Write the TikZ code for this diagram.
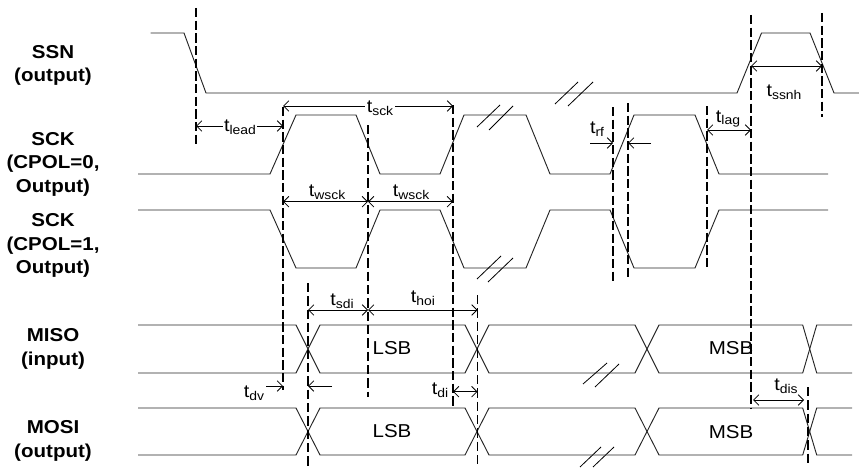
\documentclass[tikz,border=0pt]{standalone}
\usepackage{fontspec}
\setmainfont{Liberation Sans}[FakeStretch=1.1]
\usetikzlibrary{arrows.meta}
\newcommand\tlab[1]{t\raisebox{-2.2pt}{\fontsize{9.5}{10}\selectfont #1}}
\begin{document}
\begin{tikzpicture}[x=0.75pt,y=-0.75pt,
  sig/.style={line width=0.7pt, black!85},
  brk/.style={line width=0.6pt, black},
  vdash/.style={line width=1.2pt, dash pattern=on 7pt off 2.5pt},
  vdashthin/.style={line width=0.8pt, dash pattern=on 7pt off 3pt},
  dim/.style={line width=0.6pt, {Straight Barb[length=4pt,width=8pt]}-{Straight Barb[length=4pt,width=8pt]}},
  ar/.style={line width=0.6pt, -{Straight Barb[length=4pt,width=8pt]}},
  lab/.style={align=center, inner sep=0pt, font=\fontsize{14}{17.6}\selectfont\bfseries},
  tl/.style={inner sep=1pt, font=\fontsize{13.5}{16}\selectfont},
  bus/.style={inner sep=0pt, font=\fontsize{14}{16}\selectfont}
]
\useasboundingbox (0,0) rectangle (859,467);

% signal names
\node[lab] (lSSN)  at (53,65.5)  {SSN\\(output)};
\node[lab] (lSCK0) at (53,164)   {SCK\\(CPOL=0,\\Output)};
\node[lab] (lSCK1) at (53,245.5) {SCK\\(CPOL=1,\\Output)};
\node[lab] (lMISO) at (53,348.7) {MISO\\(input)};
\node[lab] (lMOSI) at (53,440.7) {MOSI\\(output)};

% SSN
\draw[sig] (150.7,33) -- (184,33) -- (206,93) -- (737,93) -- (761.5,33) -- (810,33) -- (834,93) -- (859,93);
% SCK CPOL=0
\draw[sig] (138,174) -- (270,174) -- (296,115) -- (356,115) -- (380,174) -- (440,174) -- (464,115) -- (526,115) -- (550,174) -- (610,174) -- (634,115) -- (695,115) -- (719,174) -- (828,174);
% SCK CPOL=1
\draw[sig] (138,210) -- (270,210) -- (296,268) -- (356,268) -- (380,210) -- (440,210) -- (464,268) -- (526,268) -- (550,210) -- (610,210) -- (634,268) -- (695,268) -- (719,210) -- (828,210);
% MISO
\draw[sig] (138,325) -- (296,325) -- (320,373) -- (465,373) -- (489,325) -- (635,325) -- (659,373) -- (802.7,373) -- (816.7,325) -- (852,325);
\draw[sig] (138,373) -- (296,373) -- (320,325) -- (465,325) -- (489,373) -- (635,373) -- (659,325) -- (802.7,325) -- (816.7,373) -- (852,373);
% MOSI
\draw[sig] (138,408) -- (296,408) -- (320,455) -- (465,455) -- (489,408) -- (635,408) -- (659,455) -- (802.7,455) -- (816.7,408) -- (852,408);
\draw[sig] (138,455) -- (296,455) -- (320,408) -- (465,408) -- (489,455) -- (635,455) -- (659,408) -- (802.7,408) -- (816.7,455) -- (852,455);

% break marks
\draw[brk] (555,104) -- (578,82);  \draw[brk] (568,106) -- (593,82);
\draw[brk] (477,127) -- (500,105); \draw[brk] (489,130) -- (513,106);
\draw[brk] (477,279) -- (501,256); \draw[brk] (488,282) -- (513,258);
\draw[brk] (583,384) -- (607,363); \draw[brk] (595,387) -- (619,364);
\draw[brk] (580,467) -- (601,447); \draw[brk] (593,467) -- (614,447);

% bus contents
\node[bus] (lsb1) at (392,348) {LSB};
\node[bus] (lsb2) at (392,431) {LSB};
\node[bus] (msb1) at (731,348) {MSB};
\node[bus] (msb2) at (731,432) {MSB};

% vertical dashed reference lines
\draw[vdash] (196,8) -- (196,147);
\draw[vdash] (283,107) -- (283,390);
\draw[vdashthin] (368,125) -- (368,397);
\draw[vdash] (453,105) -- (453,408);
\draw[vdashthin] (308,283) -- (308,467);
\draw[vdashthin] (477.5,295) -- (477.5,467);
\draw[vdash] (613,107) -- (613,282);
\draw[vdash] (628,103) -- (628,280);
\draw[vdash] (707,106) -- (707,270);
\draw[vdash] (751,15) -- (751,408);
\draw[vdash] (822,13) -- (822,117);
\draw[vdashthin] (808,387) -- (808,467);

% timing dimensions
\draw[dim] (196,126) -- (283,126);
\node[tl, fill=white, inner sep=0.5pt] (tlead) at (240,127) {\tlab{lead}};
\draw[dim] (283,106) -- (453,106);
\node[tl, fill=white] (tsck) at (380,108) {\tlab{sck}};
\draw[dim] (283,201.7) -- (368,201.7);
\draw[dim] (368,201.7) -- (453,201.7);
\node[tl] (twsck1) at (327,192) {\tlab{wsck}};
\node[tl] (twsck2) at (411,192) {\tlab{wsck}};
\draw[dim] (308,310) -- (368,310);
\draw[dim] (368,310) -- (477.5,310);
\node[tl] (tsdi) at (342,301) {\tlab{sdi}};
\node[tl] (thoi) at (423,298) {\tlab{hoi}};
\draw[ar] (266,386) -- (283,386);
\draw[ar] (332,386) -- (308,386);
\node[tl] (tdv) at (254,393) {\tlab{dv}};
\draw[dim] (453,391.7) -- (477.5,391.7);
\node[tl] (tdi) at (440,390) {\tlab{di}};
\draw[ar] (590,143) -- (613,143);
\draw[ar] (651,143) -- (628,143);
\node[tl] (trf) at (597,129) {\tlab{rf}};
\draw[dim] (707,130) -- (751,130);
\node[tl] (tlag) at (728,119) {\tlab{lag}};
\draw[dim] (751,66) -- (822,66);
\node[tl] (tssnh) at (784,92) {\tlab{ssnh}};
\draw[dim] (753,400) -- (804,400);
\node[tl] (tdis) at (786,386) {\tlab{dis}};
\end{tikzpicture}
\end{document}
